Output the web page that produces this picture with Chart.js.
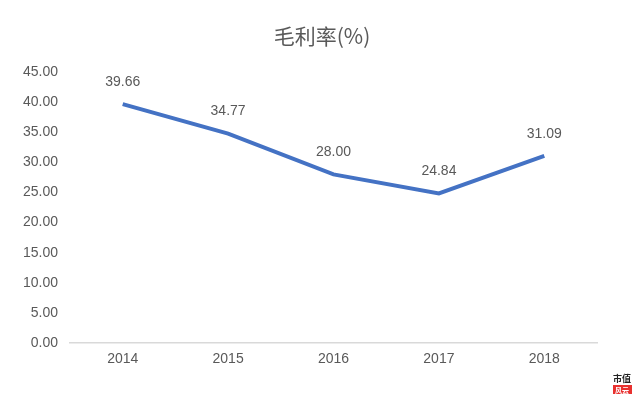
<!DOCTYPE html>
<html>
<head>
<meta charset="utf-8">
<script src="https://cdn.jsdelivr.net/npm/chart.js@4"></script>
<style>
html,body{margin:0;padding:0;background:#fff;}
#wrap{position:relative;width:640px;height:401px;}
</style>
</head>
<body>
<div id="wrap"><canvas id="c" width="640" height="401"></canvas></div>
<script>
const categories = ['2014', '2015', '2016', '2017', '2018'];
const grossMargin = [39.66, 34.77, 28.00, 24.84, 31.09];
const titleText = '毛利率(%)';

const narrow = "'Liberation Sans', Arial, sans-serif";
const textColor = '#595959';

const decoPlugin = {
  id: 'deco',
  afterDraw(chart) {
    const ctx = chart.ctx;
    ctx.save();
    ctx.font = "21px 'Noto Sans CJK SC', sans-serif";
    ctx.fillStyle = textColor;
    ctx.textAlign = 'center';
    ctx.textBaseline = 'middle';
    ctx.fillText(titleText, 322, 36);
    // small logo bottom-right
    ctx.font = "bold 9px 'Noto Sans CJK SC', sans-serif";
    ctx.fillStyle = '#222';
    ctx.fillText('市值', 622, 379);
    ctx.fillStyle = '#e8312f';
    ctx.fillRect(613, 385, 19, 9);
    ctx.fillStyle = '#fff';
    ctx.font = "bold 7px 'Noto Sans CJK SC', sans-serif";
    ctx.fillText('风云', 622, 390);
    ctx.restore();
  },
  afterDatasetsDraw(chart) {
    const ctx = chart.ctx;
    const meta = chart.getDatasetMeta(0);
    ctx.save();
    ctx.font = "14px " + narrow;
    ctx.fillStyle = textColor;
    ctx.textAlign = 'center';
    ctx.textBaseline = 'middle';
    meta.data.forEach((pt, i) => {
      ctx.fillText(grossMargin[i].toFixed(2), pt.x, pt.y - 22);
    });
    ctx.restore();
  }
};

new Chart(document.getElementById('c'), {
  type: 'line',
  data: {
    labels: categories,
    datasets: [{
      data: grossMargin,
      borderColor: '#4472C4',
      borderWidth: 4,
      pointRadius: 0,
      tension: 0,
      fill: false
    }]
  },
  options: {
    responsive: false,
    animation: false,
    devicePixelRatio: 1,
    layout: { padding: { left: 0, right: 43, top: 72, bottom: 0 } },
    plugins: {
      legend: { display: false },
      tooltip: { enabled: false },
      title: { display: false }
    },
    scales: {
      x: {
        offset: true,
        grid: { display: false, drawTicks: false },
        border: { display: true, color: '#d9d9d9', width: 1.5 },
        ticks: { color: textColor, font: { size: 14, family: narrow }, padding: 8 },
        afterFit(scale) { scale.height = 58; }
      },
      y: {
        min: 0, max: 45,
        grid: { display: false, drawTicks: false },
        border: { display: false },
        ticks: {
          stepSize: 5,
          color: textColor,
          font: { size: 14, family: narrow },
          padding: 12,
          callback: v => Number(v).toFixed(2)
        },
        afterFit(scale) { scale.width = 70; }
      }
    }
  },
  plugins: [decoPlugin]
});
</script>
</body>
</html>
